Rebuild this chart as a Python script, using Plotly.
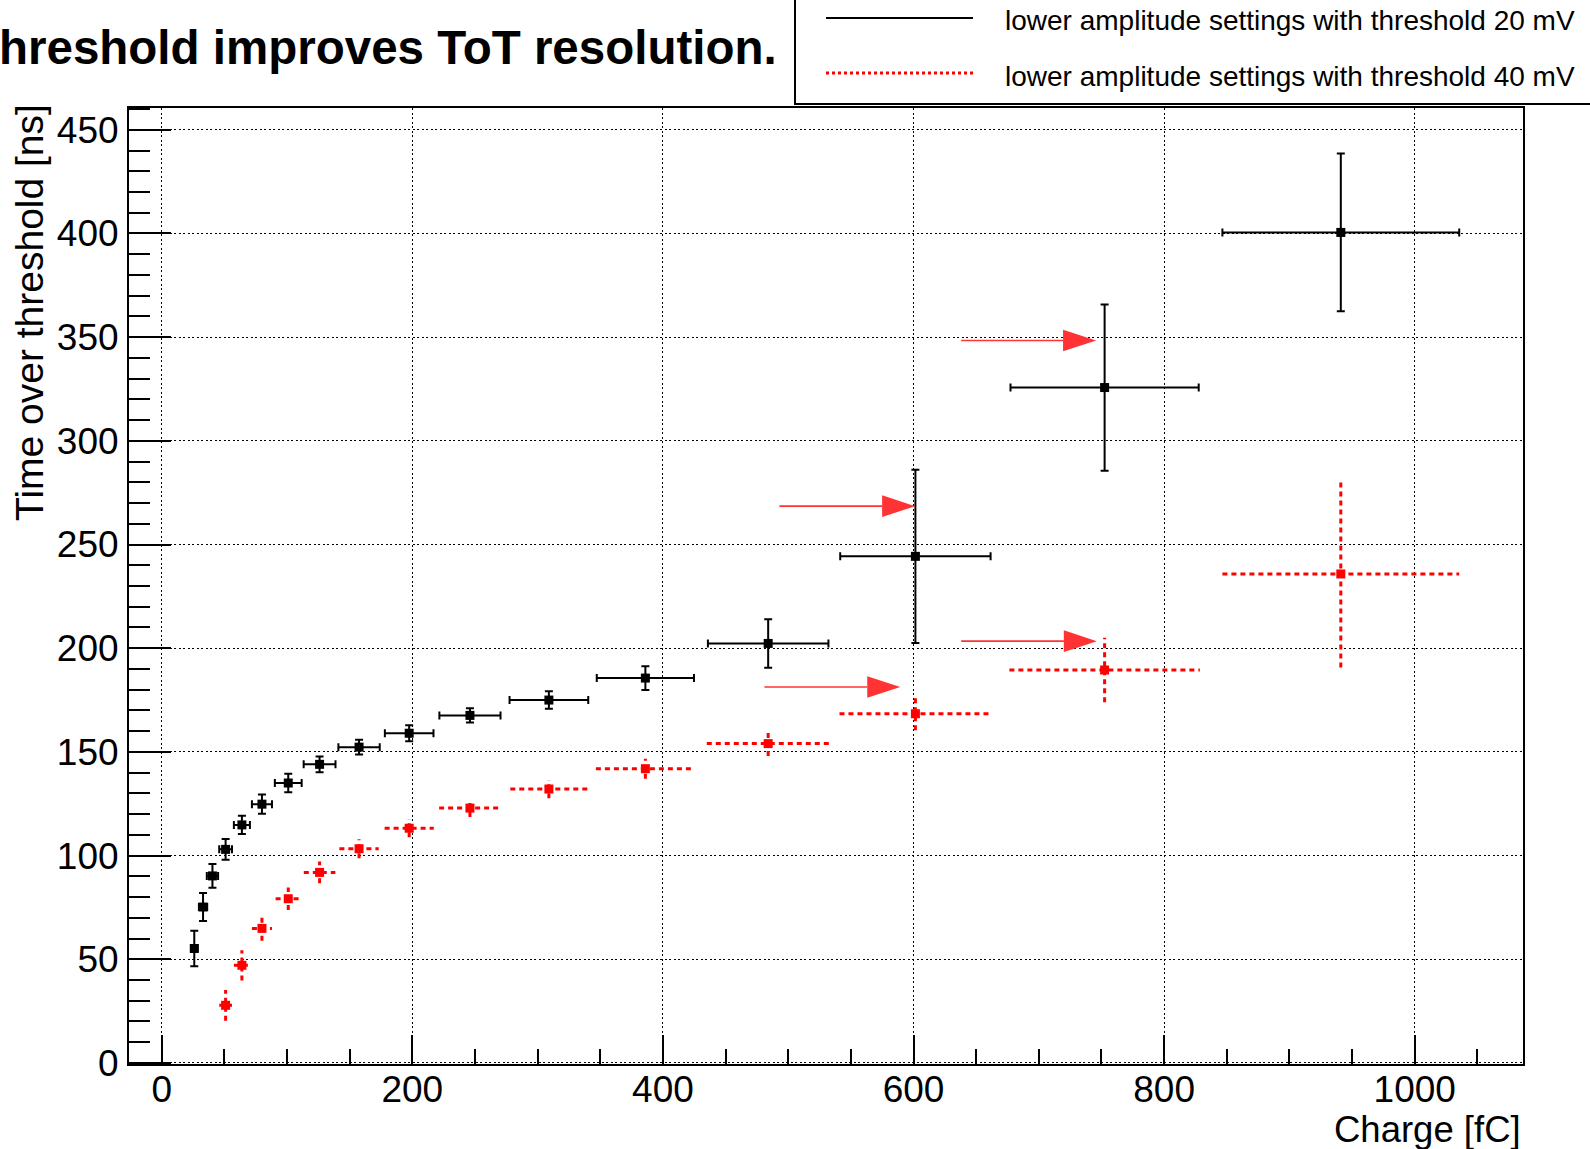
import plotly.graph_objects as go

# Charge bins [fC] (centre and half-width), threshold 20 mV
charge = [26, 33, 40.5, 51, 64, 80, 101, 126, 157.5, 197.5, 246, 309, 386, 484, 601.5, 752.5, 941]
charge_err = [2.6, 3.3, 4.5, 5.1, 6.4, 8.0, 10.7, 12.7, 16.5, 19.4, 24.4, 31.4, 38.8, 48.1, 60.0, 75.1, 94.5]
tot_20 = [55.2, 75.2, 90.2, 103.0, 114.8, 124.8, 135.0, 144.0, 152.3, 159.0, 167.6, 175.0, 185.6, 202.3, 244.3, 325.7, 400.5]
tot_20_err = [8.6, 6.7, 5.7, 5.0, 4.4, 4.6, 4.5, 3.8, 3.5, 3.9, 3.4, 4.2, 5.7, 11.7, 41.8, 40.1, 38.0]

# Threshold 40 mV
charge_40 = [51, 64, 80, 101, 126, 157.5, 197.5, 246, 309, 386, 484, 601.5, 752.5, 941]
charge_40_err = [5.1, 6.4, 8.0, 10.1, 12.6, 15.7, 19.6, 24.6, 30.8, 39.5, 49.0, 60.6, 76.0, 94.5]
tot_40 = [27.8, 47.1, 64.9, 79.2, 91.9, 103.3, 113.2, 122.9, 132.1, 141.9, 154.0, 168.4, 189.5, 235.8]
tot_40_err = [7.4, 7.3, 6.0, 5.4, 5.2, 4.6, 4.4, 4.3, 4.4, 4.8, 6.0, 8.0, 15.6, 45.1]

# Highlight arrows (tail x, tip x, y) in data units
arrow_tail_x = [638, 493, 638, 481]
arrow_tip_x = [745.7, 601.3, 746.3, 589.4]
arrow_y = [348.4, 268.5, 203.4, 181.3]

legend_labels = ["lower amplitude settings with threshold 20 mV",
                 "lower amplitude settings with threshold 40 mV"]

FONT = "Liberation Sans, Arial, Helvetica, sans-serif"
W, H = 1590, 1149
L, R, T, B = 129, 1523, 108, 1064
X_RANGE = [-26.1, 1086.4]
Y_RANGE = [-0.5, 460.5]
RED = "#ff0000"
ARROW_RED = "#ff3333"


def paper_x(px):
    return (px - L) / (R - L)


def paper_y(py):
    return (B - py) / (B - T)


# dashed error crosses for the 40 mV series
ex, ey = [], []
for x, dx, y, dy in zip(charge_40, charge_40_err, tot_40, tot_40_err):
    ex += [x - dx, x + dx, None, x, x, None]
    ey += [y, y, None, y - dy, y + dy, None]

fig = go.Figure()
fig.add_trace(go.Scatter(
    x=ex, y=ey, mode="lines", hoverinfo="skip",
    line=dict(color=RED, width=3, dash="5px,4px"), showlegend=False))
fig.add_trace(go.Scatter(
    x=charge_40, y=tot_40, mode="markers",
    marker=dict(symbol="square", size=9, color=RED), showlegend=False))
fig.add_trace(go.Scatter(
    x=charge, y=tot_20, mode="markers",
    marker=dict(symbol="square", size=9, color="black"),
    error_x=dict(type="data", array=charge_err, color="black", thickness=2, width=4),
    error_y=dict(type="data", array=tot_20_err, color="black", thickness=2, width=4),
    showlegend=False))

shapes = []
# arrows: shaft plus filled triangular head
x_per_px = (X_RANGE[1] - X_RANGE[0]) / (R - L)
y_per_px = (Y_RANGE[1] - Y_RANGE[0]) / (B - T)
head_len = 33 * x_per_px
head_half = 10.8 * y_per_px
for x0, x1, y in zip(arrow_tail_x, arrow_tip_x, arrow_y):
    xb = x1 - head_len
    shapes.append(dict(type="line", xref="x", yref="y", x0=x0, x1=xb, y0=y, y1=y,
                       line=dict(color=ARROW_RED, width=1.6)))
    shapes.append(dict(type="path", xref="x", yref="y",
                       path=f"M {xb},{y - head_half} L {x1},{y} L {xb},{y + head_half} Z",
                       fillcolor=ARROW_RED, line=dict(width=0)))

# legend box
shapes.append(dict(type="rect", xref="paper", yref="paper",
                   x0=paper_x(795), x1=paper_x(1620), y0=paper_y(104), y1=paper_y(-20),
                   line=dict(color="black", width=2), fillcolor="white", layer="above"))
shapes.append(dict(type="line", xref="paper", yref="paper",
                   x0=paper_x(826), x1=paper_x(973), y0=paper_y(18), y1=paper_y(18),
                   line=dict(color="black", width=2)))
shapes.append(dict(type="line", xref="paper", yref="paper",
                   x0=paper_x(826), x1=paper_x(973), y0=paper_y(73), y1=paper_y(73),
                   line=dict(color=RED, width=3, dash="3px,3px")))

annotations = [
    dict(text="<b>hreshold improves ToT resolution.</b>", xref="paper", yref="paper",
         x=paper_x(-3), y=paper_y(47), xanchor="left", yanchor="middle", showarrow=False,
         font=dict(family=FONT, size=47.5, color="black")),
    dict(text=legend_labels[0], xref="paper", yref="paper",
         x=paper_x(1003), y=paper_y(20), xanchor="left", yanchor="middle", showarrow=False,
         font=dict(family=FONT, size=28, color="black")),
    dict(text=legend_labels[1], xref="paper", yref="paper",
         x=paper_x(1003), y=paper_y(77), xanchor="left", yanchor="middle", showarrow=False,
         font=dict(family=FONT, size=28, color="black")),
    dict(text="Time over threshold [ns]", xref="paper", yref="paper", textangle=-90,
         x=paper_x(29), y=paper_y(313), xanchor="center", yanchor="middle", showarrow=False,
         font=dict(family=FONT, size=39, color="black")),
    dict(text="Charge [fC]", xref="paper", yref="paper",
         x=paper_x(1522), y=paper_y(1129.5), xanchor="right", yanchor="middle", showarrow=False,
         borderpad=0, font=dict(family=FONT, size=36.5, color="black")),
]

axis_common = dict(
    showline=True, linecolor="black", linewidth=2, mirror=True,
    ticks="inside", tickcolor="black", tickwidth=1.5,
    showgrid=True, gridcolor="black", gridwidth=1, griddash="2px,2.5px",
    zeroline=False,
    tickfont=dict(family=FONT, size=37, color="black"),
)

fig.update_layout(
    width=W, height=H, autosize=False,
    margin=dict(l=L, r=W - R, t=T, b=H - B, pad=0),
    paper_bgcolor="white", plot_bgcolor="white",
    showlegend=False,
    xaxis=dict(range=X_RANGE, tick0=0, dtick=200, ticklen=29,
               ticklabelstandoff=-8,
               minor=dict(dtick=50, tick0=0, ticklen=15, ticks="inside",
                          tickcolor="black", tickwidth=1.5, showgrid=False),
               **axis_common),
    yaxis=dict(range=Y_RANGE, tick0=0, dtick=50, ticklen=42,
               ticklabelstandoff=1,
               minor=dict(dtick=10, tick0=0, ticklen=21, ticks="inside",
                          tickcolor="black", tickwidth=1.5, showgrid=False),
               **axis_common),
    shapes=shapes,
    annotations=annotations,
)

fig.write_html("out.html", config={"displayModeBar": False})
